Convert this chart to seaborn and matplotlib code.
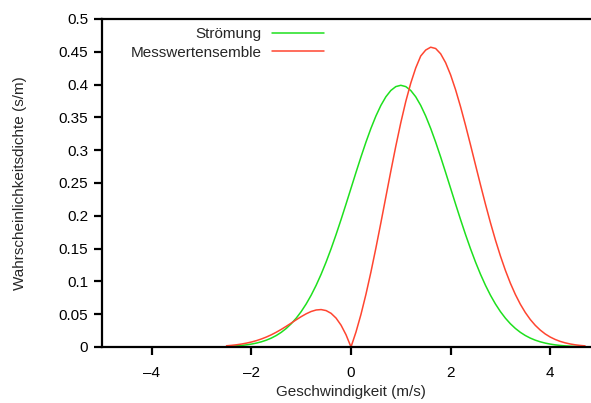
import numpy as np
import pandas as pd
import matplotlib
matplotlib.use("Agg")
import matplotlib.pyplot as plt
import seaborn as sns

# Sample positions (m/s)
velocity = [
    -2.5, -2.4, -2.3, -2.2, -2.1, -2.0, -1.9, -1.8, -1.7, -1.6,
    -1.5, -1.4, -1.3, -1.2, -1.1, -1.0, -0.9, -0.8, -0.7, -0.6,
    -0.5, -0.4, -0.3, -0.2, -0.1, 0.0, 0.1, 0.2, 0.3, 0.4,
    0.5, 0.6, 0.7, 0.8, 0.9, 1.0, 1.1, 1.2, 1.3, 1.4,
    1.5, 1.6, 1.7, 1.8, 1.9, 2.0, 2.1, 2.2, 2.3, 2.4,
    2.5, 2.6, 2.7, 2.8, 2.9, 3.0, 3.1, 3.2, 3.3, 3.4,
    3.5, 3.6, 3.7, 3.8, 3.9, 4.0, 4.1, 4.2, 4.3, 4.4,
    4.5, 4.6, 4.7,
]

# Probability density of the flow velocity (s/m)
stroemung = [
    0.00087, 0.00123, 0.00172, 0.00238, 0.00327, 0.00443, 0.00595, 0.00792, 0.01042, 0.01358,
    0.01753, 0.02239, 0.02833, 0.03547, 0.04398, 0.05399, 0.06562, 0.07895, 0.09405, 0.11092,
    0.12952, 0.14973, 0.17137, 0.19419, 0.21785, 0.24197, 0.26609, 0.28969, 0.31225, 0.33322,
    0.35207, 0.36827, 0.38139, 0.39104, 0.39695, 0.39894, 0.39695, 0.39104, 0.38139, 0.36827,
    0.35207, 0.33322, 0.31225, 0.28969, 0.26609, 0.24197, 0.21785, 0.19419, 0.17137, 0.14973,
    0.12952, 0.11092, 0.09405, 0.07895, 0.06562, 0.05399, 0.04398, 0.03547, 0.02833, 0.02239,
    0.01753, 0.01358, 0.01042, 0.00792, 0.00595, 0.00443, 0.00327, 0.00238, 0.00172, 0.00123,
    0.00087, 0.00061, 0.00042,
]

# Probability density of the measured ensemble (s/m)
messwerte = [
    0.00186, 0.00253, 0.00339, 0.00449, 0.00589, 0.00759, 0.00969, 0.01222, 0.01518, 0.01862,
    0.02254, 0.02687, 0.03157, 0.03649, 0.04147, 0.04628, 0.05062, 0.05414, 0.05643, 0.05705,
    0.05551, 0.05134, 0.04407, 0.03329, 0.01867, 0.00000, 0.02281, 0.04966, 0.08030, 0.11425,
    0.15090, 0.18941, 0.22885, 0.26816, 0.30623, 0.34197, 0.37429, 0.40223, 0.42541, 0.44358,
    0.45268, 0.45701, 0.45502, 0.44698, 0.43337, 0.41483, 0.39215, 0.36621, 0.33786, 0.30803,
    0.27756, 0.24721, 0.21767, 0.18949, 0.16312, 0.13884, 0.11687, 0.09730, 0.08014, 0.06525,
    0.05259, 0.04191, 0.03305, 0.02580, 0.01989, 0.01519, 0.01149, 0.00857, 0.00634, 0.00464,
    0.00336, 0.00241, 0.00171,
]

series_names = ["Strömung", "Messwertensemble"]
series_colors = ["#1ee01e", "#ff4530"]
x_ticks = [-4, -2, 0, 2, 4]
y_ticks = [0, 0.05, 0.1, 0.15, 0.2, 0.25, 0.3, 0.35, 0.4, 0.45, 0.5]

sns.set_style("ticks")
plt.rcParams["font.family"] = ["Liberation Sans", "DejaVu Sans"]
plt.rcParams["font.size"] = 11

df = pd.DataFrame({
    "v": velocity * 2,
    "p": stroemung + messwerte,
    "Reihe": [series_names[0]] * len(velocity) + [series_names[1]] * len(velocity),
})

fig = plt.figure(figsize=(5.91, 4.03), dpi=100)
ax = fig.add_axes([102 / 591, 56 / 403, (600 - 102) / 591, (384 - 56) / 403])

sns.lineplot(data=df, x="v", y="p", hue="Reihe", hue_order=series_names,
             palette=series_colors, linewidth=1.1, ax=ax, legend=False,
             sort=False, estimator=None)

ax.set_xlim(-5, 5)
ax.set_ylim(0, 0.5)
ax.set_xticks(x_ticks)
ax.set_xticklabels([f"{t:d}".replace("-", "\u2013") for t in x_ticks])
ax.set_yticks(y_ticks)
ax.set_yticklabels(["0" if t == 0 else f"{t:g}" for t in y_ticks])

for side in ["left", "bottom", "top"]:
    ax.spines[side].set_linewidth(1.6)
    ax.spines[side].set_color("black")
ax.spines["right"].set_visible(False)

ax.tick_params(axis="both", direction="out", length=6, width=1.6,
               labelsize=11, colors="black")
ax.tick_params(axis="x", pad=8)
ax.tick_params(axis="y", pad=4)

ax.set_xlabel("Geschwindigkeit (m/s)", fontsize=11, labelpad=3)
ax.set_ylabel("Wahrscheinlichkeitsdichte (s/m)", fontsize=11, labelpad=23)

handles = [plt.Line2D([], [], color=c, linewidth=1.1) for c in series_colors]
fig.legend(handles, series_names, loc="upper right",
           bbox_to_anchor=(324 / 591, 1 - 27 / 403),
           markerfirst=False, frameon=False, fontsize=11,
           handlelength=3.4, handletextpad=0.7, labelspacing=0.3,
           borderpad=0, borderaxespad=0)

fig.savefig("out.png", dpi=100)
